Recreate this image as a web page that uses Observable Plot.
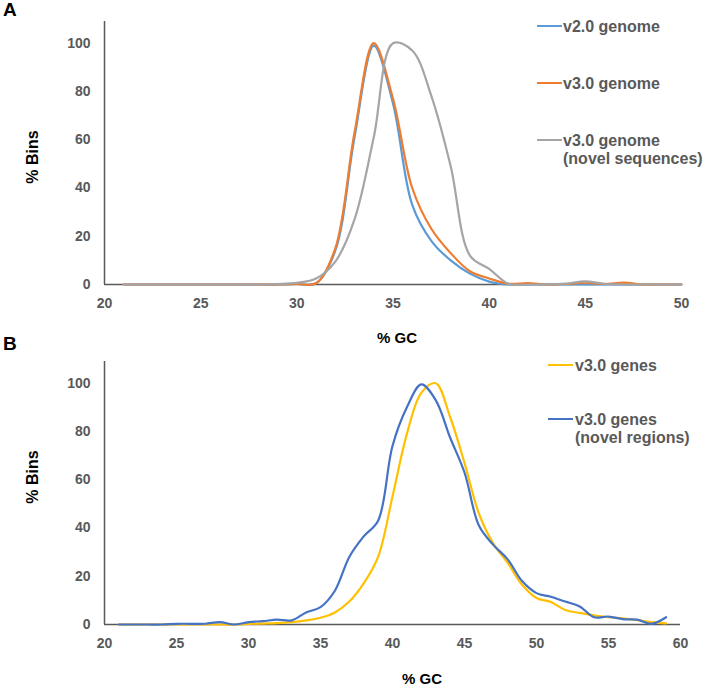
<!DOCTYPE html>
<html><head><meta charset="utf-8">
<script src="https://cdn.jsdelivr.net/npm/d3@7"></script>
<script src="https://cdn.jsdelivr.net/npm/@observablehq/plot@0.6"></script>
<style>
body{margin:0;background:#fff;}
#wrap{position:relative;width:704px;height:689px;overflow:hidden;font-family:"Liberation Sans",Arial,sans-serif;}
#wrap svg{position:absolute;left:0;}
</style></head><body><div id="wrap"></div>
<script>
// ---------- Panel A data (x = % GC, y = % Bins) ----------
const gcA = [21,22,23,24,25,26,27,28,29,30,31,32,33,34,35,36,37,38,39,40,41,42,43,44,45,46,47,48,49,50];
const v2Genome    = [0,0,0,0,0,0,0,0,0,0.2,0.5,14,61,99,75,33,18,10,4.5,1.2,0,0,0,0,0,0,0,0,0,0];
const v3Genome    = [0,0,0,0,0,0,0,0,0,0.2,0.5,15,63,100,77,40,23,13,5.5,2.5,0.3,0.6,0,0.2,0.8,0.2,0.8,0,0,0];
const v3GenomeNovel = [0,0,0,0,0,0,0,0,0.2,0.7,2.5,9.5,27,61,100,97,78,49,12,6.5,0.3,0,0,0.4,1.3,0.3,0,0,0,0];
const seriesA = ["v2.0 genome", "v3.0 genome", "v3.0 genome\n(novel sequences)"];
const colorsA = ["#5B9BD5", "#ED7D31", "#A5A5A5"];

// ---------- Panel B data ----------
const gcB = [21,22,23,24,25,26,27,28,29,30,31,32,33,34,35,36,37,38,39,40,41,42,43,44,45,46,47,48,49,50,51,52,53,54,55,56,57,58,59];
const v3Genes      = [0,0,0,0,0,0,0,0,0,0.2,0.4,0.6,1,1.7,2.8,5,9.5,17,28,53,79,96,100,86,67,46,33.5,25.5,16.5,11,9.3,6,4.8,3.8,3,2.6,1.8,1,0.5];
const v3GenesNovel = [0,0,0,0,0.3,0.3,0.3,1,0,1,1.4,2,1.7,5,7.2,14,28,36.5,43,74,90,99.5,93,77.5,63,41,33,27,18,13,11.5,9.5,7.5,3,3.3,2.2,2,0.3,3];
const seriesB = ["v3.0 genes", "v3.0 genes\n(novel regions)"];
const colorsB = ["#FFC000", "#4472C4"];

const ticksA = [20,25,30,35,40,45,50];
const ticksB = [20,25,30,35,40,45,50,55,60];
const ticksY = [0,20,40,60,80,100];

const wrap = document.getElementById("wrap");
const axisColor = "#595959";

function panel(xs, seriesVals, colors, xDomain, xTicks, top, height, mTop, mBottom, mRight) {
  const marks = [
    Plot.ruleX([xDomain[0]], {stroke: axisColor, strokeWidth: 1.5}),
    Plot.ruleY([0], {stroke: axisColor, strokeWidth: 1.5}),
    Plot.axisX(xTicks, {tickSize: 0, tickPadding: 14, fill: axisColor}),
    Plot.axisY(ticksY, {tickSize: 0, tickPadding: 14, fill: axisColor})
  ];
  seriesVals.forEach((vals, i) => {
    const rows = xs.map((x, j) => ({x, y: vals[j]}));
    marks.push(Plot.line(rows, {x: "x", y: "y", stroke: colors[i], strokeWidth: 2.2, curve: "catmull-rom"}));
  });
  const svg = Plot.plot({
    width: 704, height,
    marginLeft: 104, marginRight: mRight, marginTop: mTop, marginBottom: mBottom,
    x: {domain: xDomain, label: null},
    y: {domain: [0, 109], label: null},
    style: {fontFamily: '"Liberation Sans", Arial, sans-serif', fontSize: "14px", fontWeight: "bold", background: "transparent"},
    marks
  });
  svg.style.top = top + "px";
  wrap.appendChild(svg);
}

panel(gcA, [v2Genome, v3Genome, v3GenomeNovel], colorsA, [20, 50], ticksA, 0, 330, 21, 46, 23);
panel(gcB, [v3Genes, v3GenesNovel], colorsB, [20, 60], ticksB, 330, 359, 31, 65, 24);

// ---------- overlay: titles, axis titles, legends ----------
const ov = d3.select(wrap).append("svg")
  .attr("width", 704).attr("height", 689)
  .style("top", "0px")
  .style("font-family", '"Liberation Sans", Arial, sans-serif')
  .style("font-weight", "bold");

ov.append("text").attr("x", 3).attr("y", 16).attr("font-size", 19).attr("fill", "#000").text("A");
ov.append("text").attr("x", 3).attr("y", 350).attr("font-size", 19).attr("fill", "#000").text("B");

[[157], [477]].forEach(([cy]) => {
  ov.append("text").attr("transform", `translate(38,${cy}) rotate(-90)`)
    .attr("text-anchor", "middle").attr("font-size", 16).attr("fill", "#000").text("% Bins");
});
ov.append("text").attr("x", 397).attr("y", 343).attr("text-anchor", "middle").attr("font-size", 15).attr("fill", "#000").text("% GC");
ov.append("text").attr("x", 422).attr("y", 684).attr("text-anchor", "middle").attr("font-size", 15).attr("fill", "#000").text("% GC");

function legend(names, colors, ys, lx0, lx1, tx) {
  names.forEach((name, i) => {
    const y = ys[i];
    ov.append("line").attr("x1", lx0).attr("x2", lx1).attr("y1", y).attr("y2", y)
      .attr("stroke", colors[i]).attr("stroke-width", 2);
    name.split("\n").forEach((ln, k) => {
      ov.append("text").attr("x", tx).attr("y", y + 5.7 + k * 18.5)
        .attr("font-size", 16).attr("fill", axisColor).text(ln);
    });
  });
}
legend(seriesA, colorsA, [26, 83, 140], 537, 562, 563);
legend(seriesB, colorsB, [365, 419], 548, 573, 575);
</script></body></html>
